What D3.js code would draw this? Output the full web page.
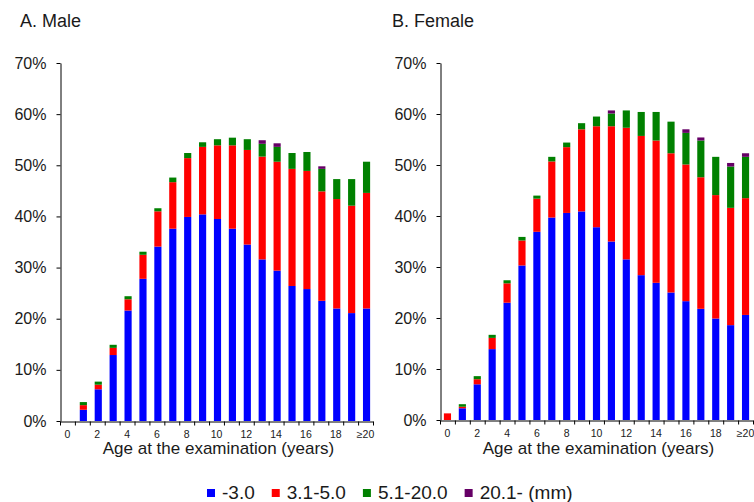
<!DOCTYPE html>
<html>
<head>
<meta charset="utf-8">
<script src="https://cdn.jsdelivr.net/npm/d3@7"></script>
<style>
  body { margin: 0; background: #fff; }
  svg { display: block; }
  text { font-family: "Liberation Sans", Arial, sans-serif; fill: #1a1a1a; }
</style>
</head>
<body>
<div id="chart"></div>
<script>
// ages 0..19 and >=20
const ages = ["0","1","2","3","4","5","6","7","8","9","10","11","12","13","14","15","16","17","18","19","≥20"];
const ageTicks = ["0","2","4","6","8","10","12","14","16","18","≥20"];
const yTicks = [0, 10, 20, 30, 40, 50, 60, 70];

const seriesKeys = ["s1", "s2", "s3", "s4"];
const seriesLabels = ["-3.0", "3.1-5.0", "5.1-20.0", "20.1- (mm)"];
const seriesColors = ["#0000ff", "#ff0000", "#008000", "#660066"];

// values in %
const maleBlue   = [0, 2.2, 6.2, 12.9, 21.6, 27.8, 34.1, 37.6, 39.9, 40.4, 39.5, 37.6, 34.5, 31.6, 29.4, 26.4, 25.8, 23.5, 22.0, 21.1, 22.0];
const maleRed    = [0, 0.9, 0.9, 1.4, 2.2, 4.7, 6.9, 9.1, 11.5, 13.2, 14.4, 16.3, 18.5, 20.1, 21.3, 22.9, 23.1, 21.4, 21.4, 21.0, 22.6];
const maleGreen  = [0, 0.6, 0.6, 0.6, 0.6, 0.6, 0.6, 0.9, 1.0, 0.9, 1.2, 1.5, 2.1, 2.5, 2.9, 3.1, 3.7, 4.4, 3.9, 5.2, 6.1];
const malePurple = [0, 0, 0, 0, 0, 0, 0, 0, 0, 0, 0, 0, 0, 0.7, 0.7, 0, 0, 0.5, 0, 0, 0];

const femaleBlue   = [0, 2.3, 7.0, 13.9, 23.0, 30.3, 36.9, 39.7, 40.6, 40.9, 37.8, 35.0, 31.5, 28.4, 26.9, 25.0, 23.3, 21.8, 19.9, 18.6, 20.6];
const femaleRed    = [1.3, 0.3, 1.0, 2.2, 3.8, 4.9, 6.5, 11.0, 12.9, 16.1, 19.8, 22.6, 25.8, 27.3, 27.9, 27.3, 26.8, 25.8, 24.2, 23.0, 22.9];
const femaleGreen  = [0, 0.5, 0.6, 0.6, 0.6, 0.7, 0.6, 0.9, 0.9, 1.2, 1.9, 2.5, 3.4, 4.7, 5.6, 6.2, 6.2, 7.2, 7.5, 8.1, 8.1];
const femalePurple = [0, 0, 0, 0, 0, 0, 0, 0, 0, 0, 0, 0.6, 0, 0, 0, 0, 0.7, 0.6, 0, 0.7, 0.7];

const width = 754, height = 502;

const svg = d3.select("#chart").append("svg")
    .attr("width", width)
    .attr("height", height);

function rows(b, r, g, p) {
  return ages.map((a, i) => ({ age: a, s1: b[i], s2: r[i], s3: g[i], s4: p[i] }));
}

const panels = [
  { title: "A. Male",   titleX: 20,  left: 60,  right: 373, bottom: 421, top: 63, barShift: 1,
    data: rows(maleBlue, maleRed, maleGreen, malePurple) },
  { title: "B. Female", titleX: 392, left: 440, right: 753, bottom: 420, top: 63, barShift: 0,
    data: rows(femaleBlue, femaleRed, femaleGreen, femalePurple) }
];

const stack = d3.stack().keys(seriesKeys);

panels.forEach(p => {
  const g = svg.append("g");

  const x = d3.scaleBand().domain(ages).range([p.left, p.right])
      .paddingInner(0.52).paddingOuter(0.26);
  const xEdge = d3.scaleLinear().domain([0, ages.length]).range([p.left, p.right]);
  const y = d3.scaleLinear().domain([0, 70]).range([p.bottom, p.top]);

  g.append("text")
      .attr("x", p.titleX)
      .attr("y", 27)
      .style("font-size", "18px")
      .text(p.title);

  // bars
  const layers = stack(p.data);
  g.append("g")
      .attr("transform", `translate(${p.barShift},0)`)
    .selectAll("g")
    .data(layers)
    .join("g")
      .attr("fill", (d, i) => seriesColors[i])
    .selectAll("rect")
    .data(d => d)
    .join("rect")
      .attr("x", d => x(d.data.age))
      .attr("width", x.bandwidth())
      .attr("y", d => y(d[1]))
      .attr("height", d => Math.max(0, y(d[0]) - y(d[1])));

  // y axis
  const yAxis = g.append("g")
      .attr("transform", `translate(${p.left + 0.5},0)`)
      .call(d3.axisLeft(y).tickValues(yTicks).tickFormat(d => d + "%")
        .tickSize(4).tickSizeOuter(0).tickPadding(10));
  yAxis.selectAll("text").style("font-size", "16px").attr("fill", "#1a1a1a");
  yAxis.selectAll("line, path").attr("stroke", "#000");

  // x axis: ticks at category boundaries
  const xAxis = g.append("g")
      .attr("transform", `translate(0,${p.bottom + 0.5})`)
      .call(d3.axisBottom(xEdge).tickValues(d3.range(ages.length + 1))
        .tickFormat("").tickSize(4).tickSizeOuter(0));
  xAxis.selectAll("line, path").attr("stroke", "#000");

  const xLabels = g.append("g")
      .attr("transform", `translate(0,${p.bottom + 0.5})`)
      .call(d3.axisBottom(x).tickValues(ageTicks).tickSize(0).tickPadding(9));
  xLabels.select(".domain").remove();
  xLabels.selectAll("text").style("font-size", "10.5px").attr("fill", "#1a1a1a");

  g.append("text")
      .attr("x", (p.left + p.right) / 2 + 2)
      .attr("y", 454)
      .attr("text-anchor", "middle")
      .style("font-size", "17px")
      .text("Age at the examination (years)");
});

// legend
const legend = svg.append("g");
let lx = 207;
seriesLabels.forEach((lab, i) => {
  legend.append("rect")
      .attr("x", lx).attr("y", 489)
      .attr("width", 8).attr("height", 8)
      .attr("fill", seriesColors[i]);
  const t = legend.append("text")
      .attr("x", lx + 15).attr("y", 499)
      .style("font-size", "19px")
      .text(lab);
  lx += 15 + t.node().getComputedTextLength() + 17;
});
</script>
</body>
</html>
